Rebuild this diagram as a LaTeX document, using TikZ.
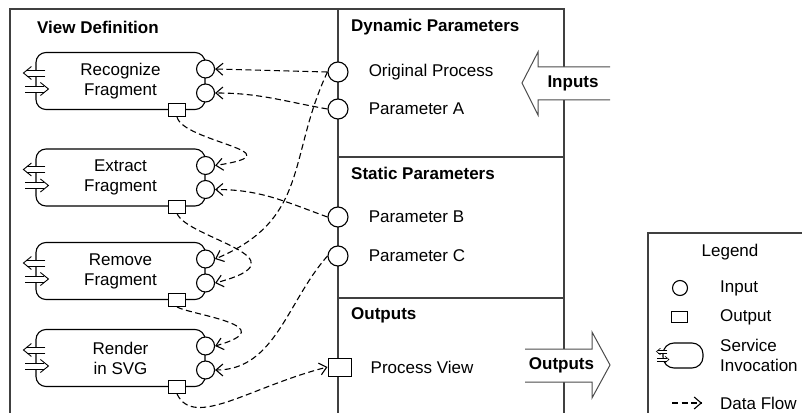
\documentclass[tikz,border=0pt]{standalone}
\usepackage{fontspec}
\setmainfont{Liberation Sans}
\usetikzlibrary{arrows.meta,positioning}

\tikzset{
    svcline/.style={line width=0.9pt},
    % two double-line arrows across the left edge of a service
    invoke/.pic={
        \fill[white] (-8,5) rectangle (10,11);
        \fill[white] (-10,-5) rectangle (9,-11);
        \draw[svcline] (10,11) -- (-8,11) (10,5) -- (-8,5);
        \draw[svcline] (-4,14.5) -- (-12,8) -- (-4,1.5);
        \draw[svcline] (-10,-5) -- (9,-5) (-10,-11) -- (9,-11);
        \draw[svcline] (5,-1.5) -- (13,-8) -- (5,-14.5);
    }
}

\begin{document}
\begin{tikzpicture}[
    x=1pt, y=1pt,
    font=\fontsize{17}{20}\selectfont,
    divider/.style={draw=black!75, line width=1.8pt},
    service/.style={rectangle, draw, line width=1.1pt, rounded corners=10pt, minimum width=169pt, minimum height=57pt, inner sep=0pt, align=center},
    inport/.style={circle, draw, fill=white, line width=1.1pt, minimum size=18pt, inner sep=0pt},
    outport/.style={rectangle, draw, fill=white, line width=1pt, minimum width=17pt, minimum height=13pt, inner sep=0pt},
    txt/.style={anchor=west, inner sep=0pt},
    heading/.style={anchor=west, inner sep=0pt, font=\fontsize{17}{20}\selectfont\bfseries},
    flow/.style={line width=1.1pt, dash pattern=on 6pt off 3.5pt, -{Straight Barb[length=7pt,width=12pt]}},
    bigarrow/.style={draw=black!70, line width=1pt, fill=white},
    legendbox/.style={draw=black!75, line width=1.2pt}
]
\useasboundingbox (0,0) rectangle (802,412);
\clip (0,0) rectangle (802,412);

% Frame and sections
\draw[divider] (10,-10) -- (10,403) -- (564,403) -- (564,-10);
\draw[divider] (338,403) -- (338,-10);
\draw[divider] (338,255) -- (564,255);
\draw[divider] (338,114) -- (564,114);

\node[heading] (viewdef) at (37,385) {View Definition};
\node[heading] (dynpar) at (351,385) {Dynamic Parameters};
\node[heading] (statpar) at (351,239) {Static Parameters};
\node[heading] (outsec) at (351,97) {Outputs};

% Services
\node[service] (rec) at (120.5,331) {Recognize\\Fragment};
\node[service] (ext) at (120.5,234.5) {Extract\\Fragment};
\node[service] (rem) at (120.5,141) {Remove\\Fragment};
\node[service] (ren) at (120.5,54) {Render\\in SVG};

\foreach \s in {rec,ext,rem,ren} {
    \pic at (\s.west) {invoke};
    \node[inport] (\s-in1) at ([yshift=12pt]\s.east) {};
    \node[inport] (\s-in2) at ([yshift=-12pt]\s.east) {};
    \node[outport] (\s-out) at ([xshift=-28.5pt]\s.south east) {};
}

% Parameters
\node[inport, minimum size=20pt] (orig) at (338,340) {};
\node[inport, minimum size=20pt] (parA) at (338,303) {};
\node[inport, minimum size=20pt] (parB) at (338,195) {};
\node[inport, minimum size=20pt] (parC) at (338,156) {};
\node[outport, minimum width=23pt, minimum height=18pt] (pview) at (339.5,45) {};

\node[txt, right=20pt of orig] (orig-txt) {Original Process};
\node[txt, right=20pt of parA] (parA-txt) {Parameter A};
\node[txt, right=20pt of parB] (parB-txt) {Parameter B};
\node[txt, right=20pt of parC] (parC-txt) {Parameter C};
\node[txt, right=19pt of pview] (pview-txt) {Process View};

% Inputs / Outputs
\draw[bigarrow] (610,345) -- (538,345) -- (538,360) -- (522,329) -- (538,297) -- (538,312) -- (610,312);
\node[heading, anchor=center] (inputs) at (573,329) {Inputs};
\draw[bigarrow] (525,63) -- (592,63) -- (592,80) -- (610,47) -- (592,14) -- (592,30) -- (525,30);
\node[heading, anchor=center] (outputs) at (561.5,47) {Outputs};

% Data flow
\draw[flow] (orig.west) -- (rec-in1.east);
\draw[flow] (parA.west) to[out=170, in=0] (rec-in2.east);
\draw[flow] (rec-out.south) .. controls +(6,-25) and +(86,13) .. (ext-in1.east);
\draw[flow] (parB.west) to[out=160, in=0] (ext-in2.east);
\draw[flow] (orig.west) .. controls +(-40,-85) and +(95,40) .. (rem-in1.east);
\draw[flow] (ext-out.south) .. controls +(10,-25) and +(95,25) .. (rem-in2.east);
\draw[flow] (parC.west) .. controls +(-40,-45) and +(60,0) .. (ren-in2.east);
\draw[flow] (rem-out.south) .. controls +(15,-8) and +(70,20) .. (ren-in1.east);
\draw[flow] (ren-out.south) .. controls +(17,-35) and +(-78,-20) .. (pview.west);

% Legend
\draw[legendbox] (648,-20) -- (648,179) -- (820,179);
\node (legend) at (730,160) {Legend};
\node[inport, minimum size=15pt] (l-in) at (680,124) {};
\node[txt] (l-in-txt) at (720,124) {Input};
\node[outport, minimum width=16pt, minimum height=11pt] (l-out) at (679,95) {};
\node[txt] (l-out-txt) at (720,95) {Output};
\node[service, minimum width=40pt, minimum height=25pt, rounded corners=11pt] (l-svc) at (683,56.5) {};
\pic[scale=.5, svcline/.style={line width=.6pt}] at (l-svc.west) {invoke};
\node[txt, align=left] (l-svc-txt) at (720,57) {Service\\Invocation};
\coordinate (l-flow-a) at (672,9);
\coordinate (l-flow-b) at (702,9);
\draw[flow] (l-flow-a) -- (l-flow-b);
\node[txt] (l-flow-txt) at (720,9) {Data Flow};

\end{tikzpicture}
\end{document}
